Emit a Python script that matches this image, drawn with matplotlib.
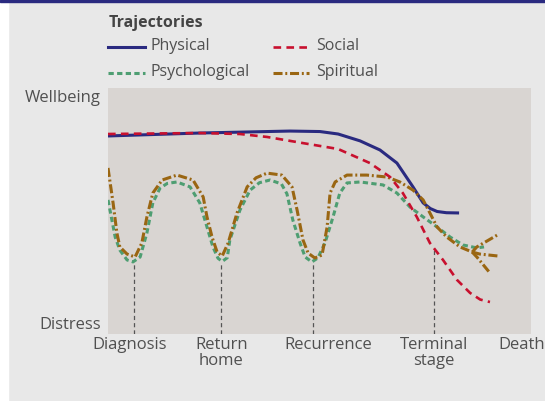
import matplotlib.pyplot as plt
from matplotlib.lines import Line2D
from matplotlib.patches import Rectangle

plt.rcParams['font.family'] = ['Open Sans', 'DejaVu Sans']
plt.rcParams['lines.scale_dashes'] = False

# time axis 0..100, wellbeing axis 0 (distress) .. 100 (wellbeing)
events = ['Diagnosis', 'Return\nhome', 'Recurrence', 'Terminal\nstage', 'Death']
event_label_x = [5.0, 26.8, 52.0, 77.1, 97.9]
marker_x = [6.1, 26.7, 48.5, 77.1]
marker_top = [29.3, 29.3, 29.3, 35.0]

physical_x = [0, 21.7, 43.0, 50.1, 54.4, 59.6, 64.3, 68.3, 72.1, 74.5, 76.2, 77.8, 80.0, 83.0]
physical_y = [80.5, 81.7, 82.5, 82.3, 81.3, 78.5, 74.8, 69.5, 59.8, 53.3, 51.0, 49.8, 49.3, 49.2]

social_x = [0, 21.7, 31.2, 37.6, 46.1, 54.4, 61.9, 66.7, 69.7, 73.0, 76.1, 79.2, 82.5, 85.6, 88.0, 90.3]
social_y = [81.3, 81.7, 81.3, 80.1, 77.6, 75.2, 69.5, 63.8, 57.3, 47.6, 37.0, 30.1, 22.0, 16.7, 14.0, 13.0]

psych_x = [0, 1.7, 2.8, 4.5, 5.9, 7.6, 9.2, 10.6, 12.3, 14.0, 16.3, 19.4, 21.7, 23.4, 24.8,
           26.0, 27.0, 28.2, 28.8, 31.2, 33.6, 35.8, 38.3, 41.0, 42.3, 43.7, 45.4, 46.6, 48.2,
           49.6, 51.3, 53.2, 54.8, 56.5, 59.6, 65.0, 68.3, 71.4, 74.5, 77.8, 80.9, 83.9, 87.2, 88.9]
psych_y = [54.5, 39.4, 34.1, 30.1, 29.3, 31.3, 41.1, 53.3, 59.3, 61.2, 61.8, 59.8, 53.3, 43.5, 35.4,
           30.8, 29.5, 31.0, 38.2, 50.4, 58.5, 61.5, 62.6, 61.0, 57.0, 46.3, 37.0, 31.3, 29.3,
           30.9, 37.0, 47.6, 57.3, 61.4, 61.8, 60.6, 57.3, 51.6, 47.6, 43.5, 39.4, 36.2, 35.0, 35.4]

spirit_x = [0, 1.2, 2.1, 2.8, 4.5, 6.4, 8.0, 9.2, 10.6, 12.8, 16.3, 20.1, 22.5, 23.4, 24.6,
            25.8, 27.0, 28.4, 30.5, 32.9, 35.0, 37.6, 41.1, 43.5, 44.7, 46.1, 47.3, 48.9, 50.6,
            51.8, 52.5, 53.7, 56.5, 61.2, 66.0, 69.0, 72.1, 74.5, 76.1, 77.8, 80.1, 83.2, 86.1]
spirit_y = [67.5, 53.3, 41.1, 35.4, 32.5, 31.3, 37.0, 47.6, 57.3, 62.6, 64.6, 62.6, 55.7, 47.6, 39.4,
            33.3, 31.7, 37.0, 49.2, 59.8, 63.5, 65.4, 64.6, 59.8, 50.4, 38.2, 32.9, 30.9, 32.1,
            43.5, 57.3, 61.8, 64.6, 64.6, 63.8, 61.8, 58.5, 54.5, 49.2, 43.5, 39.4, 35.4, 33.3]
# three possible endings of the spiritual trajectory
spirit_end_x = [[86.1, 87.2, 92.0], [86.1, 87.9, 92.2], [86.1, 87.2, 90.3]]
spirit_end_y = [[33.3, 35.4, 40.2], [33.3, 32.5, 31.7], [33.3, 31.3, 24.8]]

navy = '#2a2a80'
red = '#c8102e'
green = '#4e9e72'
brown = '#9a6612'
text_c = '#505050'

styles = {
    'Physical': dict(color=navy, lw=2.2, ls='-'),
    'Social': dict(color=red, lw=1.9, ls=(0, (5.5, 3.8))),
    'Psychological': dict(color=green, lw=2.2, ls=(0, (3.8, 2.4))),
    'Spiritual': dict(color=brown, lw=2.2, ls=(0, (6.5, 2.0, 1.4, 2.0))),
}

fig = plt.figure(figsize=(5.45, 4.01), dpi=100, facecolor='#e8e8e8')
fig.patches.append(Rectangle((0, 0), 8 / 545, 1, transform=fig.transFigure,
                             color='white', zorder=0))
fig.patches.append(Rectangle((0, 1 - 2 / 401), 1, 2 / 401, transform=fig.transFigure,
                             color=navy, zorder=0))

ax = fig.add_axes([108 / 545, 67 / 401, 423 / 545, 246 / 401])
ax.set_facecolor('#d9d5d2')
for s in ax.spines.values():
    s.set_visible(False)
ax.set_xlim(0, 100)
ax.set_ylim(0, 100)

for x, top in zip(marker_x, marker_top):
    ax.plot([x, x], [0, top], color='#555555', lw=0.9, ls=(0, (3, 2.2)), zorder=1)

ax.plot(physical_x, physical_y, zorder=2, solid_capstyle='butt', **styles['Physical'])
ax.plot(psych_x, psych_y, zorder=3, **styles['Psychological'])
ax.plot(spirit_x, spirit_y, zorder=4, **styles['Spiritual'])
for ex, ey in zip(spirit_end_x, spirit_end_y):
    ax.plot(ex, ey, zorder=4, **styles['Spiritual'])
ax.plot(social_x, social_y, zorder=5, **styles['Social'])

ax.set_xticks(event_label_x, events)
ax.set_yticks([96.7, 4.5], ['Wellbeing', 'Distress'])
ax.tick_params(axis='x', length=0, pad=2, labelsize=12, labelcolor=text_c)
ax.tick_params(axis='y', length=0, pad=5, labelsize=12, labelcolor=text_c)
for lab in ax.get_xticklabels():
    lab.set_linespacing(1.05)

# legend drawn by hand to match layout
fig.text(109 / 545, 1 - 27 / 401, 'Trajectories', fontsize=11.5, fontweight='bold',
         color='#444444', va='baseline', ha='left')
legend_items = [('Physical', 108, 145, 151, 47, 50), ('Social', 273, 309, 316, 47, 50),
                ('Psychological', 108, 145, 151, 72.5, 75.5), ('Spiritual', 273, 309, 316, 72.5, 75.5)]
for name, x0, x1, tx, ly, ty in legend_items:
    fig.add_artist(Line2D([x0 / 545, x1 / 545], [1 - ly / 401, 1 - ly / 401],
                          transform=fig.transFigure, **styles[name]))
    fig.text(tx / 545, 1 - ty / 401, name, fontsize=11.5, color=text_c,
             va='baseline', ha='left')

fig.savefig('out.png', dpi=100, facecolor=fig.get_facecolor())
